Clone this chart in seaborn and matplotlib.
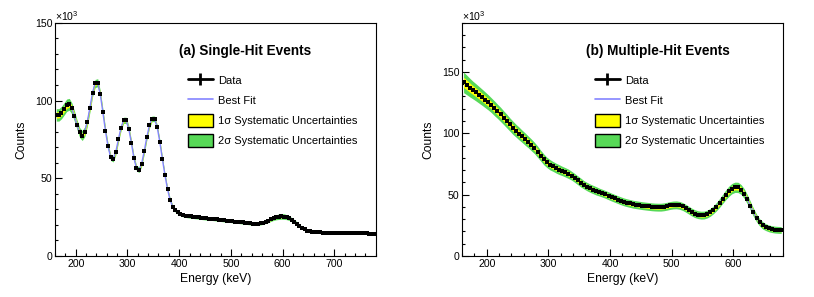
"""
Single-hit / multiple-hit energy spectra with best fit and systematic bands.
"""

import matplotlib
matplotlib.use("Agg")

import matplotlib.pyplot as plt
from matplotlib.lines import Line2D
from matplotlib.patches import Patch
from matplotlib.legend_handler import HandlerTuple
from matplotlib.ticker import MultipleLocator
import seaborn as sns
import numpy as np
import pandas as pd

sns.set_theme(style="ticks", rc={"axes.edgecolor": "black", "xtick.color": "black",
                                 "ytick.color": "black", "text.color": "black",
                                 "axes.labelcolor": "black"})
plt.rcParams["font.family"] = ["Liberation Sans", "DejaVu Sans"]
plt.rcParams["mathtext.fontset"] = "custom"
plt.rcParams["mathtext.rm"] = "Liberation Sans"

BIN_WIDTH = 5  # keV

# --- (a) single-hit events, counts in units of 10^3 ---
single_energy = np.arange(162.5, 780, BIN_WIDTH)
single_counts = [
    90.8, 90.8, 92.3, 94.6, 97.0, 97.6, 95.0, 90.0, 84.5, 79.5,
    77.5, 80.0, 86.5, 95.5, 105.0, 111.0, 111.5, 104.0, 92.5, 80.5,
    70.5, 63.5, 62.5, 67.0, 75.0, 82.5, 87.3, 87.3, 82.0, 73.0,
    63.0, 56.5, 55.5, 59.5, 67.5, 76.5, 84.0, 88.3, 88.2, 83.0,
    73.5, 62.5, 52.0, 43.0, 36.0, 31.8, 29.4, 28.0, 27.0, 26.4,
    26.0, 25.7, 25.5, 25.3, 25.1, 24.9, 24.7, 24.5, 24.3, 24.1,
    23.9, 23.7, 23.5, 23.3, 23.1, 22.9, 22.7, 22.6, 22.4, 22.2,
    22.0, 21.8, 21.6, 21.4, 21.2, 21.0, 20.9, 20.8, 20.8, 21.0,
    21.4, 22.0, 22.7, 23.5, 24.3, 24.9, 25.3, 25.5, 25.4, 25.0,
    24.3, 23.4, 22.2, 20.9, 19.5, 18.2, 17.2, 16.4, 15.9, 15.6,
    15.4, 15.3, 15.2, 15.1, 15.1, 15.1, 15.1, 15.0, 15.0, 15.0,
    15.0, 14.9, 14.9, 14.9, 14.8, 14.8, 14.7, 14.7, 14.6, 14.5,
    14.5, 14.4, 14.3, 14.3,
]
# 1 sigma systematic half-width (10^3)
single_sys1 = (
    [2.0, 2.0, 2.0, 2.0, 2.0, 1.9, 1.8, 1.7, 1.6, 1.6]
    + [1.6, 1.6, 1.5, 1.4, 1.3, 1.3, 1.3, 1.2, 1.1, 1.0]
    + [1.0] * 9 + [0.9]
    + [0.9] * 9 + [0.8]
    + [0.8, 0.7, 0.6, 0.6, 0.6, 0.6, 0.6, 0.6, 0.6, 0.6]
    + [0.6] * 10 + [0.5] * 20
    + [0.5, 0.5, 0.6, 0.6, 0.7, 0.8, 0.9, 0.9, 0.9, 0.8]
    + [0.7, 0.7, 0.6, 0.6, 0.5, 0.4, 0.4, 0.3, 0.3, 0.3]
    + [0.3] * 24
)

# --- (b) multiple-hit events ---
multi_energy = np.arange(162.5, 680, BIN_WIDTH)
multi_counts = [
    141.5, 139.5, 137.3, 135.3, 133.4, 131.4, 129.4, 127.3, 125.2, 122.9,
    120.4, 117.9, 115.4, 112.7, 110.0, 107.2, 104.5, 102.1, 99.8, 97.5,
    95.2, 92.9, 90.5, 88.0, 85.0, 81.8, 78.8, 76.3, 74.4, 73.0,
    71.6, 70.4, 69.3, 68.2, 67.0, 65.5, 63.7, 61.8, 59.9, 58.1,
    56.6, 55.3, 54.2, 53.1, 52.1, 51.2, 50.2, 49.1, 48.0, 47.0,
    46.0, 45.0, 44.1, 43.4, 42.8, 42.2, 41.8, 41.4, 41.0, 40.7,
    40.4, 40.1, 39.9, 39.8, 39.8, 40.1, 40.6, 41.2, 41.6, 41.7,
    41.3, 40.4, 39.0, 37.4, 35.8, 34.5, 33.7, 33.3, 33.4, 34.2,
    35.6, 37.6, 40.2, 43.2, 46.5, 49.8, 52.7, 54.9, 56.0, 55.9,
    54.2, 50.9, 46.3, 41.0, 35.6, 31.0, 27.4, 25.0, 23.5, 22.5,
    21.9, 21.5, 21.3, 21.2,
]
multi_sys1 = (
    [4.2, 4.0, 3.8, 3.6, 3.5, 3.4, 3.3, 3.2, 3.1, 3.0]
    + [3.0, 2.9, 2.9, 2.8, 2.8, 2.7, 2.7, 2.6, 2.6, 2.5]
    + [2.5, 2.4, 2.4, 2.3, 2.3, 2.2, 2.2, 2.1, 2.1, 2.0]
    + [2.0, 2.0, 1.9, 1.9, 1.9, 1.8, 1.8, 1.8, 1.8, 1.7]
    + [1.7, 1.7, 1.7, 1.7, 1.6, 1.6, 1.6, 1.6, 1.6, 1.6]
    + [1.6] * 30
    + [1.6, 1.6, 1.7, 1.8, 1.9, 2.0, 2.1, 2.1, 2.1, 2.1]
    + [2.0, 2.0, 1.9, 1.8, 1.7, 1.6, 1.5, 1.5, 1.4, 1.4]
    + [1.4] * 4
)

YELLOW = "#ffff00"
GREEN = "#57d957"
FIT_BLUE = "#8484ff"

LEGEND_LABELS = ["Data", "Best Fit", "1σ Systematic Uncertainties",
                 "2σ Systematic Uncertainties"]


def draw_panel(ax, energy, counts, sys1, title, xlim, ylim):
    df = pd.DataFrame({"energy": energy, "counts": counts, "sys1": sys1})
    ax.fill_between(df["energy"], df["counts"] - 2 * df["sys1"],
                    df["counts"] + 2 * df["sys1"], color=GREEN, lw=0)
    ax.fill_between(df["energy"], df["counts"] - df["sys1"],
                    df["counts"] + df["sys1"], color=YELLOW, lw=0)
    sns.lineplot(data=df, x="energy", y="counts", ax=ax, color=FIT_BLUE, lw=1.0)
    ax.errorbar(df["energy"], df["counts"],
                yerr=np.sqrt(df["counts"] * 1e3) / 1e3,
                fmt="s", ms=2.35, mew=0, color="black", elinewidth=1.0,
                capsize=0)

    ax.set_xlim(*xlim)
    ax.set_ylim(*ylim)
    ax.xaxis.set_major_locator(MultipleLocator(100))
    ax.xaxis.set_minor_locator(MultipleLocator(20))
    ax.yaxis.set_major_locator(MultipleLocator(50))
    ax.yaxis.set_minor_locator(MultipleLocator(10))
    ax.tick_params(which="both", direction="in", top=False, right=False,
                   labelsize=7.6, width=0.8, pad=2)
    ax.tick_params(which="major", length=5)
    ax.tick_params(which="minor", length=2.5)
    for sp in ax.spines.values():
        sp.set_linewidth(0.8)

    ax.set_xlabel("Energy (keV)", fontsize=8.7, labelpad=3)
    ax.set_ylabel("Counts", fontsize=8.7, labelpad=5)
    ax.text(0, 1.0, r"$\times10^{3}$", transform=ax.transAxes, ha="left",
            va="bottom", fontsize=7.6)
    ax.text(0.385, 0.88, title, transform=ax.transAxes, ha="left", va="center",
            fontsize=9.8, fontweight="bold")

    handles = [
        (Line2D([], [], color="black", lw=2),
         Line2D([], [], color="black", marker="|", ms=9, mew=2, ls="none")),
        Line2D([], [], color=FIT_BLUE, lw=1.2),
        Patch(facecolor=YELLOW, edgecolor="black", lw=1),
        Patch(facecolor=GREEN, edgecolor="black", lw=1),
    ]
    ax.legend(handles, LEGEND_LABELS, loc="upper left",
              bbox_to_anchor=(0.414, 0.781), frameon=False, fontsize=8,
              handlelength=2.25, handleheight=1.45, handletextpad=0.45,
              labelspacing=0.6, borderpad=0, borderaxespad=0,
              handler_map={tuple: HandlerTuple(ndivide=1)})


fig = plt.figure(figsize=(8.14, 2.97), dpi=100)
ax_a = fig.add_axes([0.0676, 0.138, 0.394, 0.785])
ax_b = fig.add_axes([0.5676, 0.138, 0.394, 0.785])

draw_panel(ax_a, single_energy, single_counts, single_sys1,
           "(a) Single-Hit Events", (160, 780), (0, 150))
draw_panel(ax_b, multi_energy, multi_counts, multi_sys1,
           "(b) Multiple-Hit Events", (160, 680), (0, 190))

fig.savefig("out.png", dpi=100)
